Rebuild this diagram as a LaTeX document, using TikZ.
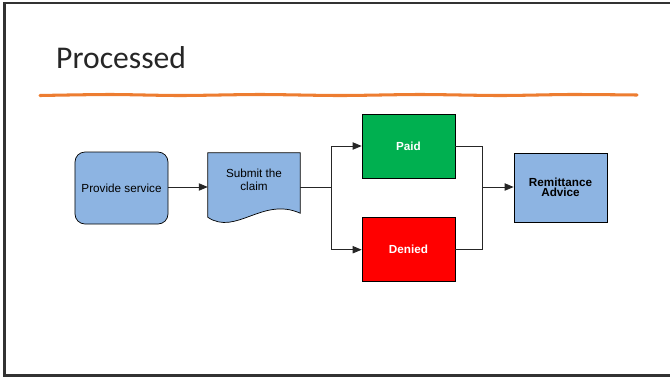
\documentclass[tikz,border=0pt]{standalone}
\usepackage{fontspec}
\setmainfont{Liberation Sans}
\newfontfamily\titlefont{Carlito}
\usepackage{xcolor}
\definecolor{boxblue}{RGB}{141,180,226}
\definecolor{paidgreen}{RGB}{0,176,80}
\definecolor{deniedred}{RGB}{255,0,0}
\definecolor{ruleorange}{RGB}{237,125,49}
\definecolor{framegray}{RGB}{50,50,50}
\usepackage{tikz}
\usetikzlibrary{arrows.meta, positioning, calc}

\begin{document}
\begin{tikzpicture}[
  x=0.03cm, y=-0.03cm,
  >={Triangle[length=0.27cm, width=0.22cm]},
  step box/.style={
    rectangle, minimum width=2.79cm, minimum height=1.92cm,
    draw=black, line width=0.6pt, fill=boxblue, align=center,
    font=\fontsize{10}{12}\selectfont
  },
  outcome/.style={step box, font=\bfseries\fontsize{10}{12}\selectfont\color{white}},
  flow/.style={->, line width=0.7pt, color=black!85},
  link/.style={line width=0.7pt, color=black!85},
  frame/.style={line width=2.2pt, color=framegray},
  rule/.style={line width=2.6pt, color=ruleorange, line cap=round}
]
\useasboundingbox (0,0) rectangle (670,378);

% slide frame and title
\draw[frame] (675,3) -- (4.5,3) -- (4.5,375.5) -- (675,375.5);
\node[anchor=base west, inner sep=0pt, font=\titlefont\fontsize{27}{32}\selectfont, text=black!85]
  (title) at (56,68) {Processed};
\draw[rule] plot[smooth] coordinates {(40,95.5) (110,94.5) (180,95.5) (260,94.5) (340,95.5) (420,94.5) (500,95.5) (570,94.5) (637,95)};

% boxes
\node[step box, rounded corners=0.3cm, minimum height=2.16cm] (provide) at (121.5,188) {Provide service};
\node[minimum width=2.76cm, minimum height=1.92cm, inner sep=0pt] (claim) at (254,185) {};
\fill[boxblue, draw=black, line width=0.6pt]
  (claim.south west) -- (claim.north west) -- (claim.north east) -- ([yshift=0.12cm]claim.south east)
  .. controls ($(claim.south west)+(55,-21)$) and ($(claim.south west)+(28,19)$) .. (claim.south west) -- cycle;
\node[align=center, font=\fontsize{10}{11.2}\selectfont] (claimtext) at ([yshift=0.15cm]claim.center) {Submit the\\claim};
\node[outcome, fill=paidgreen] (paid) at (408.5,146) {Paid};
\node[outcome, fill=deniedred, below=1.17cm of paid] (denied) {Denied};
\node[step box, minimum height=2.07cm, font=\bfseries\fontsize{10}{8.5}\selectfont] (remit) at (560.5,187.5) {Remittance\\Advice};

% connectors
\coordinate (split) at (331,187);
\coordinate (join) at (482,187);
\draw[flow] (provide.east |- split) -- (claim.west |- split);
\draw[link] (claim.east |- split) -- (split);
\draw[flow] (split) |- (paid.west);
\draw[flow] (split) |- (denied.west);
\draw[link] (paid.east) -| (join);
\draw[link] (denied.east) -| (join);
\draw[flow] (join) -- (remit.west |- join);
\end{tikzpicture}
\end{document}
